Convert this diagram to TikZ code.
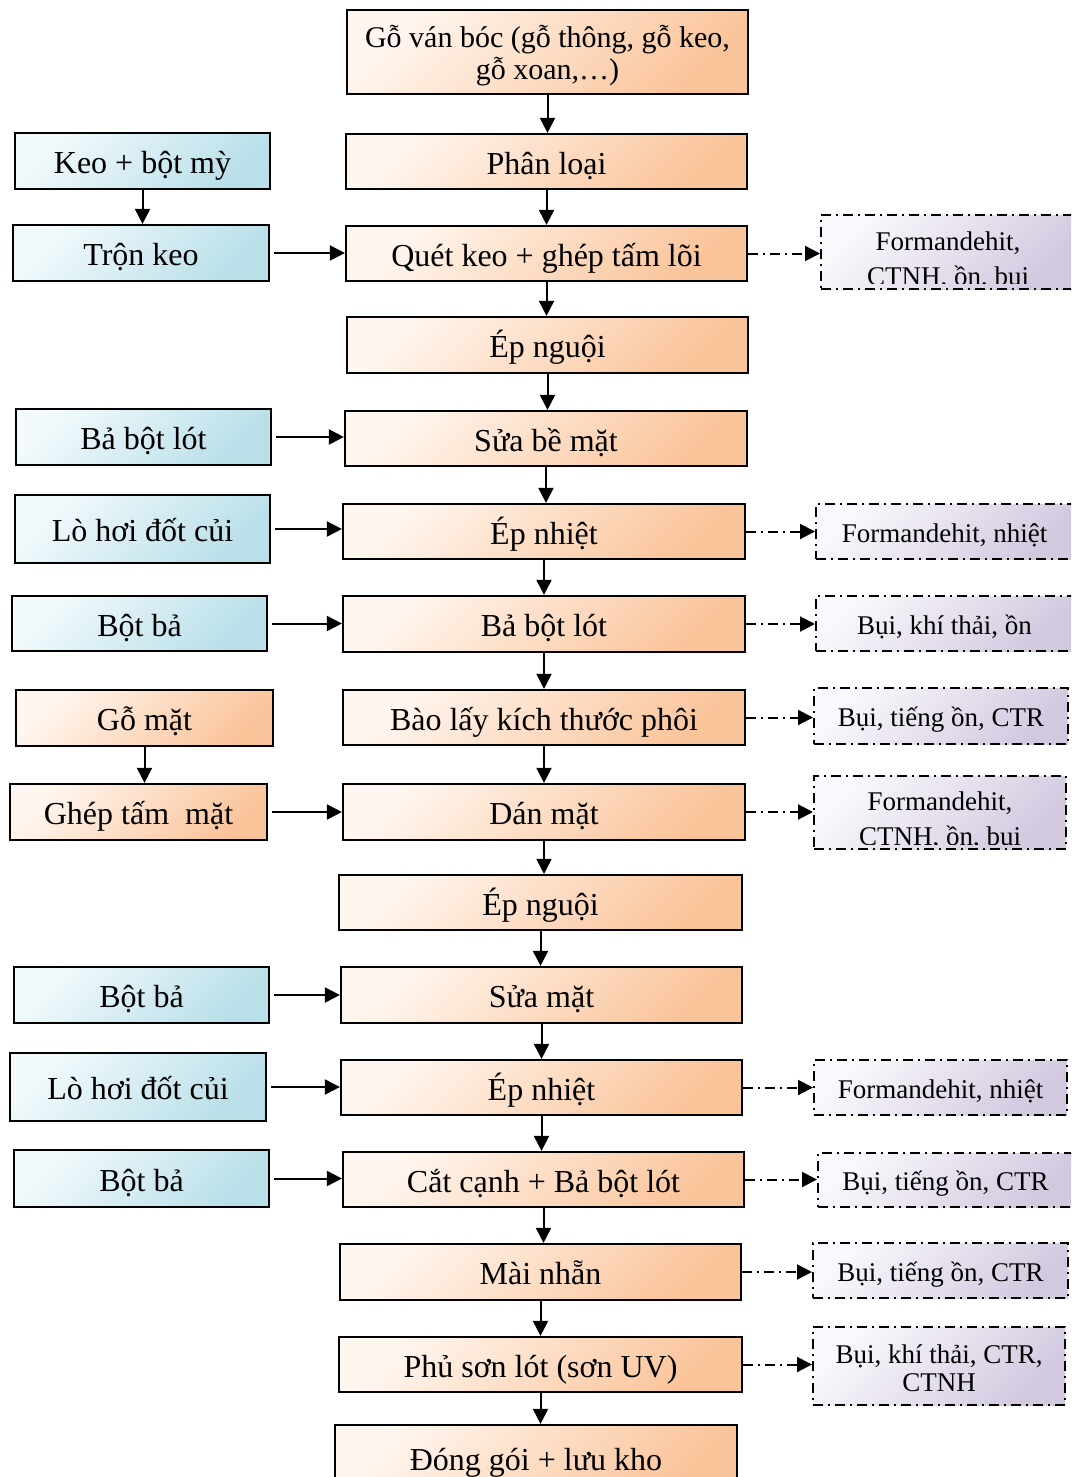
\documentclass[tikz,border=0pt]{standalone}
\usepackage{fontspec}
\setmainfont{Liberation Serif}
\usetikzlibrary{arrows.meta}
\definecolor{orL}{HTML}{FFF6EF}
\definecolor{orD}{HTML}{FAC49A}
\definecolor{blL}{HTML}{F2FAFC}
\definecolor{blD}{HTML}{B9DFE9}
\definecolor{puL}{HTML}{FAF8FC}
\definecolor{puD}{HTML}{D2C9DF}
\tikzset{
  boxbase/.style={draw=black, line width=1.1pt, inner sep=0pt},
  org/.style={boxbase, top color=orL, bottom color=orD, shading angle=45,
    font=\fontsize{16}{17}\selectfont, text height=13.5pt, text depth=1pt},
  blu/.style={boxbase, top color=blL, bottom color=blD, shading angle=45,
    font=\fontsize{16}{17}\selectfont, text height=13.5pt, text depth=1pt},
  pur/.style={draw=black, line width=1pt, inner sep=0pt,
    dash pattern=on 5pt off 2.5pt on 1pt off 2.5pt,
    top color=puL, bottom color=puD, shading angle=45,
    font=\fontsize{13.5}{14}\selectfont, text height=11.5pt, text depth=1pt},
  ptxt/.style={font=\fontsize{13.5}{13.5}\selectfont, inner sep=0pt},
  arr/.style={line width=1pt, -{Triangle[length=7.5pt,width=7.5pt]}},
  darr/.style={arr, dash pattern=on 5pt off 2.5pt on 1pt off 2.5pt},
}
\newcommand\bx[7]{\node[#2, minimum width={(#5-#3)*0.5pt}, minimum height={(#6-#4)*0.5pt}] (#1) at ({(#3+#5)/2},{(#4+#6)/2}) {#7};}
\begin{document}
\begin{tikzpicture}[x=0.5pt, y=-0.5pt]
\useasboundingbox (0,0) rectangle (1071,1477);
\clip (0,0) rectangle (1071,1477);
% main column
\bx{m1}{org, align=center, font=\fontsize{15}{16}\selectfont, text height=29pt}{347}{10}{748}{94}{Gỗ ván bóc (gỗ thông, gỗ keo,\\gỗ xoan,…)}
\bx{m2}{org}{346}{134}{747}{189}{Phân loại}
\bx{m3}{org}{346}{226}{747}{281}{Quét keo + ghép tấm lõi}
\bx{m4}{org}{347}{317}{748}{373}{Ép nguội}
\bx{m5}{org}{345}{411}{747}{466}{Sửa bề mặt}
\bx{m6}{org}{343}{504}{745}{559}{Ép nhiệt}
\bx{m7}{org}{343}{596}{745}{652}{Bả bột lót}
\bx{m8}{org}{343}{690}{745}{745}{Bào lấy kích thước phôi}
\bx{m9}{org}{343}{784}{745}{840}{Dán mặt}
\bx{m10}{org}{339}{875}{742}{930}{Ép nguội}
\bx{m11}{org}{341}{967}{742}{1023}{Sửa mặt}
\bx{m12}{org}{341}{1060}{742}{1115}{Ép nhiệt}
\bx{m13}{org}{343}{1152}{744}{1207}{Cắt cạnh + Bả bột lót}
\bx{m14}{org}{340}{1244}{741}{1300}{Mài nhẵn}
\bx{m15}{org}{339}{1337}{742}{1392}{Phủ sơn lót (sơn UV)}
\bx{m16}{org}{335}{1425}{737}{1490}{Đóng gói + lưu kho}
% left column
\bx{l1}{blu}{15}{133}{270}{189}{Keo + bột mỳ}
\bx{l2}{blu}{13}{225}{269}{281}{Trộn keo}
\bx{l3}{blu}{16}{409}{271}{465}{Bả bột lót}
\bx{l4}{blu}{15}{495}{270}{563}{Lò hơi đốt củi}
\bx{l5}{blu}{12}{596}{267}{651}{Bột bả}
\bx{l6}{org}{16}{690}{273}{746}{Gỗ mặt}
\bx{l7}{org}{10}{784}{267}{840}{Ghép tấm~ mặt}
\bx{l8}{blu}{14}{967}{269}{1023}{Bột bả}
\bx{l9}{blu}{10}{1053}{266}{1121}{Lò hơi đốt củi}
\bx{l10}{blu}{14}{1150}{269}{1207}{Bột bả}
% right column
\bx{r1}{pur, path picture={
  \clip ([yshift=3pt]path picture bounding box.south west) rectangle (path picture bounding box.north east);
  \node[ptxt, anchor=base] (r1a) at ([yshift=-17.5pt]path picture bounding box.north) {Formandehit,};
  \node[ptxt, anchor=base] (r1b) at ([yshift=-35pt]path picture bounding box.north) {CTNH, ồn, bụi};}}{821}{215}{1075}{289}{}
\bx{r2}{pur}{816}{504}{1073}{559}{Formandehit, nhiệt}
\bx{r3}{pur}{816}{596}{1073}{651}{Bụi, khí thải, ồn}
\bx{r4}{pur}{814}{688}{1068}{744}{Bụi, tiếng ồn, CTR}
\bx{r5}{pur, path picture={
  \clip ([yshift=2.5pt]path picture bounding box.south west) rectangle (path picture bounding box.north east);
  \node[ptxt, anchor=base] (r5a) at ([yshift=-17pt]path picture bounding box.north) {Formandehit,};
  \node[ptxt, anchor=base] (r5b) at ([yshift=-34.5pt]path picture bounding box.north) {CTNH, ồn, bụi};}}{814}{776}{1066}{849}{}
\bx{r6}{pur}{814}{1060}{1067}{1115}{Formandehit, nhiệt}
\bx{r7}{pur}{818}{1153}{1073}{1207}{Bụi, tiếng ồn, CTR}
\bx{r8}{pur}{813}{1243}{1068}{1298}{Bụi, tiếng ồn, CTR}
\bx{r9}{pur, align=center, text height=26pt}{813}{1327}{1065}{1405}{Bụi, khí thải, CTR,\\CTNH}
% main vertical arrows
\foreach \a/\b in {m1/m2,m2/m3,m3/m4,m4/m5,m5/m6,m6/m7,m7/m8,m8/m9,m9/m10,m10/m11,m11/m12,m12/m13,m13/m14,m14/m15,m15/m16}
  \draw[arr] (\a.south) -- (\a.south |- \b.north);
% left vertical arrows
\draw[arr] (l1.south) -- (l1.south |- l2.north);
\draw[arr] (l6.south) -- (l6.south |- l7.north);
% left horizontal arrows
\foreach \a/\b in {l2/m3,l3/m5,l4/m6,l5/m7,l7/m9,l8/m11,l9/m12,l10/m13}
  \draw[arr, shorten <=2pt] (\a.east) -- (\a.east -| \b.west);
% right dash-dot arrows
\foreach \a/\b in {m3/r1,m6/r2,m7/r3,m8/r4,m9/r5,m12/r6,m13/r7,m14/r8,m15/r9}
  \draw[darr] (\a.east) -- (\a.east -| \b.west);
\end{tikzpicture}
\end{document}
